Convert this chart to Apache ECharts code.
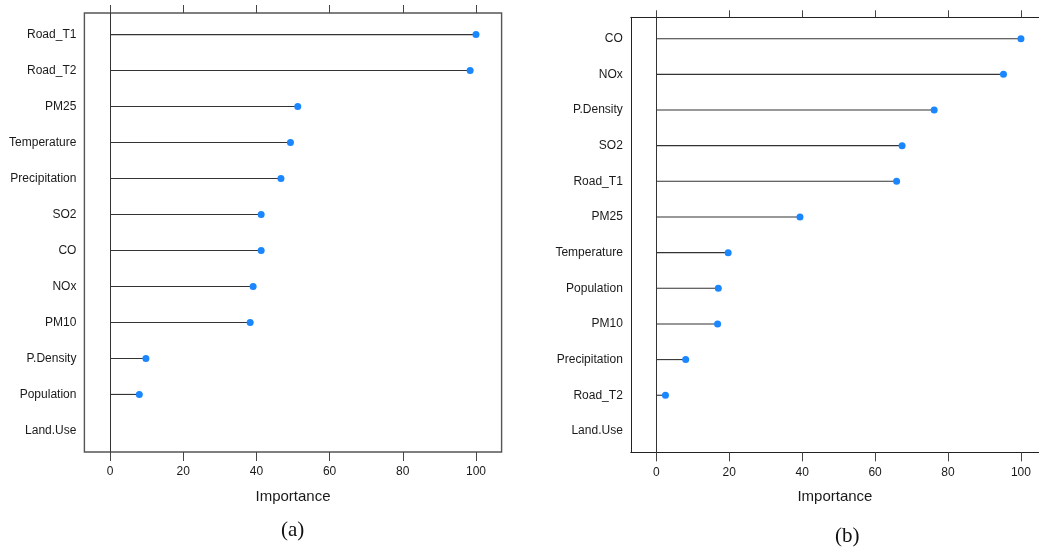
<!DOCTYPE html>
<html>
<head>
<meta charset="utf-8">
<script src="https://cdn.jsdelivr.net/npm/echarts@6/dist/echarts.min.js"></script>
<style>
  html, body { margin: 0; padding: 0; background: #fff; }
  #chart { width: 1039px; height: 552px; }
</style>
</head>
<body>
<div id="chart"></div>
<script>
// panel (a) - top to bottom (Land.Use has no importance value drawn)
const catsA = ['Road_T1', 'Road_T2', 'PM25', 'Temperature', 'Precipitation', 'SO2', 'CO', 'NOx', 'PM10', 'P.Density', 'Population', 'Land.Use'];
const valsA = [100, 98.4, 51.3, 49.3, 46.7, 41.3, 41.3, 39.1, 38.3, 9.8, 8.0, null];
// panel (b) - top to bottom
const catsB = ['CO', 'NOx', 'P.Density', 'SO2', 'Road_T1', 'PM25', 'Temperature', 'Population', 'PM10', 'Precipitation', 'Road_T2', 'Land.Use'];
const valsB = [100, 95.2, 76.2, 67.4, 65.9, 39.4, 19.7, 17.0, 16.8, 8.05, 2.5, null];
const xTicks = [0, 20, 40, 60, 80, 100];
const panelTags = ['(a)', '(b)'];

const font = 'Liberation Sans, Arial, sans-serif';
const rowIdx = catsA.map((c, i) => i + 1);

const myChart = echarts.init(document.getElementById('chart'), null, { renderer: 'canvas' });

function toPoints(vals) {
  return vals.map((v, i) => [v, i + 1]).filter(p => p[0] !== null);
}

// frame: null -> grid border draws it, otherwise axis lines draw three sides
function xAxes(gi, tickLen, max, frame) {
  const line = frame ? { show: true, onZero: false, lineStyle: { color: frame, width: 1 } } : { show: false };
  return [
    {
      gridIndex: gi, type: 'value', position: 'bottom', min: -7, max: max,
      name: 'Importance', nameLocation: 'middle', nameGap: 37,
      nameTextStyle: { fontFamily: font, fontSize: 15, color: '#1a1a1a' },
      axisLine: line,
      axisTick: { show: true, length: 9, customValues: xTicks, lineStyle: { color: '#444' } },
      axisLabel: { show: true, margin: 14, customValues: xTicks, fontFamily: font, fontSize: 12, color: '#1a1a1a' },
      splitLine: { show: false }
    },
    {
      gridIndex: gi, type: 'value', position: 'top', min: -7, max: max,
      axisLine: line,
      axisTick: { show: true, length: tickLen, customValues: xTicks, lineStyle: { color: '#444' } },
      axisLabel: { show: false },
      splitLine: { show: false }
    }
  ];
}

function yAxis(gi, cats, frame) {
  return {
    gridIndex: gi, type: 'value', inverse: true, min: 0.4, max: 12.6,
    position: 'left',
    axisLine: frame ? { show: true, onZero: false, lineStyle: { color: frame, width: 1 } } : { show: false },
    axisTick: { show: false },
    splitLine: { show: false },
    axisLabel: {
      show: true, margin: 8, customValues: rowIdx,
      fontFamily: font, fontSize: 12, color: '#1a1a1a',
      formatter: v => cats[Math.round(v) - 1]
    }
  };
}

function stems(xi, yi, vals) {
  return {
    type: 'custom', xAxisIndex: xi, yAxisIndex: yi, silent: true,
    data: toPoints(vals),
    renderItem: (params, api) => {
      const p0 = api.coord([0, api.value(1)]);
      const p1 = api.coord([api.value(0), api.value(1)]);
      return {
        type: 'line',
        shape: { x1: p0[0], y1: p0[1], x2: p1[0], y2: p1[1] },
        style: { stroke: '#333', lineWidth: 1.1 }
      };
    }
  };
}

function dots(xi, yi, vals) {
  return {
    type: 'scatter', xAxisIndex: xi, yAxisIndex: yi, silent: true,
    symbolSize: 7, itemStyle: { color: '#1a86ff', opacity: 1 },
    data: toPoints(vals),
    markLine: {
      silent: true, symbol: 'none', label: { show: false },
      lineStyle: { color: '#333', width: 1, type: 'solid' },
      data: [{ xAxis: 0 }]
    },
    z: 5
  };
}

myChart.setOption({
  animation: false,
  backgroundColor: '#fff',
  grid: [
    { left: 84.4, top: 13, width: 417.2, height: 439, show: true, borderColor: '#555', borderWidth: 1.4, backgroundColor: 'transparent' },
    { left: 630.8, top: 17.3, width: 408.2, height: 435, show: false }
  ],
  xAxis: [].concat(xAxes(0, 8, 107, null), xAxes(1, 7, 104.95, '#222')),
  yAxis: [yAxis(0, catsA, null), yAxis(1, catsB, '#222')],
  series: [
    stems(0, 0, valsA),
    dots(0, 0, valsA),
    stems(2, 1, valsB),
    dots(2, 1, valsB)
  ],
  graphic: [
    { type: 'text', left: 281, top: 520, style: { text: panelTags[0], font: '21px "Liberation Serif", "Times New Roman", serif', fill: '#111' } },
    { type: 'text', left: 835, top: 526, style: { text: panelTags[1], font: '21px "Liberation Serif", "Times New Roman", serif', fill: '#111' } }
  ]
});
</script>
</body>
</html>
